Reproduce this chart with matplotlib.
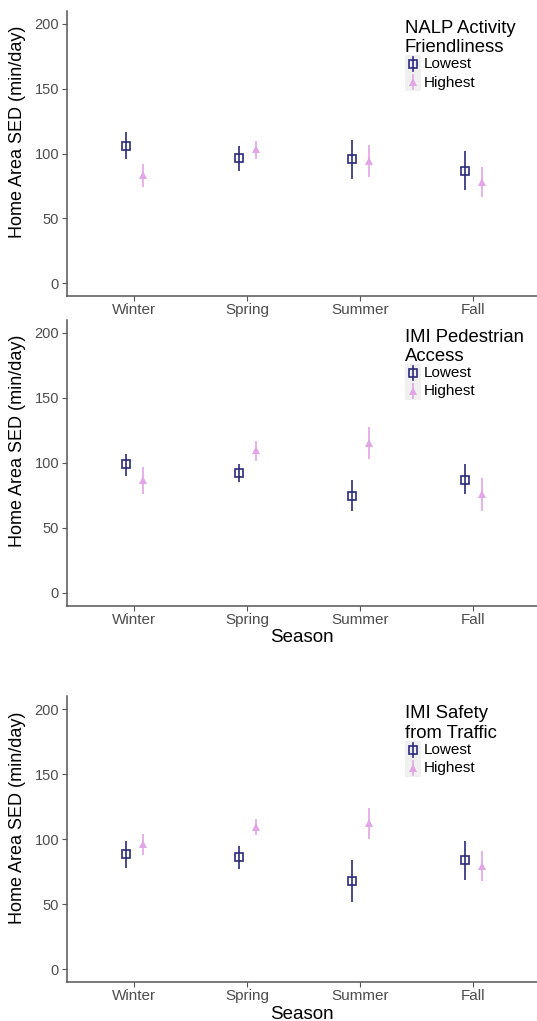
import matplotlib
matplotlib.use("Agg")
import matplotlib.pyplot as plt
import matplotlib.transforms as mtransforms
from matplotlib.lines import Line2D
from matplotlib.patches import Rectangle
import numpy as np

plt.rcParams['font.family'] = ['Liberation Sans', 'DejaVu Sans']

W, H = 537, 1021

seasons = ["Winter", "Spring", "Summer", "Fall"]
groups = ["Lowest", "Highest"]
y_ticks = [0, 50, 100, 150, 200]

titles = ["NALP Activity\nFriendliness", "IMI Pedestrian\nAccess", "IMI Safety\nfrom Traffic"]

# Panel 1: NALP Activity Friendliness
nalp_low_mean = [106, 96.5, 95.5, 87]
nalp_low_lo = [95.5, 87, 80.5, 72]
nalp_low_hi = [117, 106, 110.5, 102]
nalp_high_mean = [83.5, 103.5, 94.5, 78.5]
nalp_high_lo = [74, 96, 82, 66.5]
nalp_high_hi = [92, 109.5, 106.5, 89.5]

# Panel 2: IMI Pedestrian Access
ped_low_mean = [99, 92, 74.5, 87]
ped_low_lo = [90, 85, 62.5, 76]
ped_low_hi = [107, 99, 86.5, 99]
ped_high_mean = [86.5, 109.5, 115.5, 76]
ped_high_lo = [76, 101.5, 103, 63]
ped_high_hi = [97, 116.5, 127.5, 88.5]

# Panel 3: IMI Safety from Traffic
saf_low_mean = [88.5, 86.5, 68, 84]
saf_low_lo = [78, 77.5, 52, 68.5]
saf_low_hi = [98.5, 95, 84, 98.5]
saf_high_mean = [96.5, 109.5, 112.5, 79.5]
saf_high_lo = [88, 103, 100.5, 68]
saf_high_hi = [104, 115.5, 124, 91]

panels = [
    (nalp_low_mean, nalp_low_lo, nalp_low_hi, nalp_high_mean, nalp_high_lo, nalp_high_hi),
    (ped_low_mean, ped_low_lo, ped_low_hi, ped_high_mean, ped_high_lo, ped_high_hi),
    (saf_low_mean, saf_low_lo, saf_low_hi, saf_high_mean, saf_high_lo, saf_high_hi),
]

LOW_COL = "#2b2a7a"
HIGH_COL = "#e2a5e5"
AX_COL = "#555555"
TICK_TXT = "#4d4d4d"

fig = plt.figure(figsize=(W / 100, H / 100), dpi=100)
pix = mtransforms.Affine2D().scale(1 / W, -1 / H).translate(0, 1) + fig.transFigure

boxes = [(66.7, 11.0, 537, 296.3), (66.7, 319.7, 537, 605.7), (66.7, 696.3, 537, 982.3)]
dodge = 0.075
x = np.arange(1, len(seasons) + 1)

for i, (box, data, title) in enumerate(zip(boxes, panels, titles)):
    l, t, r, b = box
    ax = fig.add_axes([l / W, 1 - b / H, (r - l) / W, (b - t) / H])
    lm, llo, lhi, hm, hlo, hhi = [np.array(a, dtype=float) for a in data]
    ax.errorbar(x - dodge, lm, yerr=[lm - llo, lhi - lm], fmt='s', color=LOW_COL,
                ecolor=LOW_COL, elinewidth=1.2, capsize=0, markersize=5.2,
                markerfacecolor='none', markeredgecolor=LOW_COL, markeredgewidth=1.2)
    ax.errorbar(x + dodge, hm, yerr=[hm - hlo, hhi - hm], fmt='^', color=HIGH_COL,
                ecolor=HIGH_COL, elinewidth=1.2, capsize=0, markersize=5.5,
                markerfacecolor=HIGH_COL, markeredgewidth=0)
    ax.set_xlim(0.4, 0.4 + (r - l) / 112.9)
    ax.set_ylim(-10, 210)
    ax.set_xticks(x)
    ax.set_xticklabels(seasons)
    ax.set_yticks(y_ticks)
    for s in ['top', 'right']:
        ax.spines[s].set_visible(False)
    for s in ['left', 'bottom']:
        ax.spines[s].set_color(AX_COL)
        ax.spines[s].set_linewidth(1.1)
    ax.tick_params(axis='both', colors=AX_COL, length=3.5, width=0.8,
                   labelsize=11, labelcolor=TICK_TXT, pad=1.5)
    ax.tick_params(axis='y', labelsize=10.5, pad=2)
    ax.set_ylabel("Home Area SED (min/day)", fontsize=13, color='black')
    ax.yaxis.set_label_coords(-0.0866, 0.576)
    if i > 0:
        ax.set_xlabel("Season", fontsize=13.5, color='black', labelpad=2)

    # legend (drawn in pixel coordinates)
    fig.text(405, t + 41.5, title, transform=pix, fontsize=13.3, va='baseline',
             ha='left', linespacing=1.18, color='black')
    rows = [t + 53.5, t + 71.5]
    for j, (cy, lab) in enumerate(zip(rows, groups)):
        fig.add_artist(Rectangle((405, cy - 9), 16, 18, transform=pix,
                                 facecolor='#f0f0f0', edgecolor='none'))
        col = LOW_COL if j == 0 else HIGH_COL
        fig.add_artist(Line2D([413, 413], [cy - 7, cy + 7], transform=pix,
                              color=col, linewidth=1.2))
        if j == 0:
            fig.add_artist(Line2D([413], [cy], transform=pix, marker='s', markersize=5.2,
                                  markerfacecolor='none', markeredgecolor=col,
                                  markeredgewidth=1.2, linestyle='none'))
        else:
            fig.add_artist(Line2D([413], [cy], transform=pix, marker='^', markersize=5.5,
                                  markerfacecolor=col, markeredgewidth=0, linestyle='none'))
        fig.text(424, cy, lab, transform=pix, fontsize=11, va='center', ha='left',
                 color='black')

fig.savefig("out.png", dpi=100)
